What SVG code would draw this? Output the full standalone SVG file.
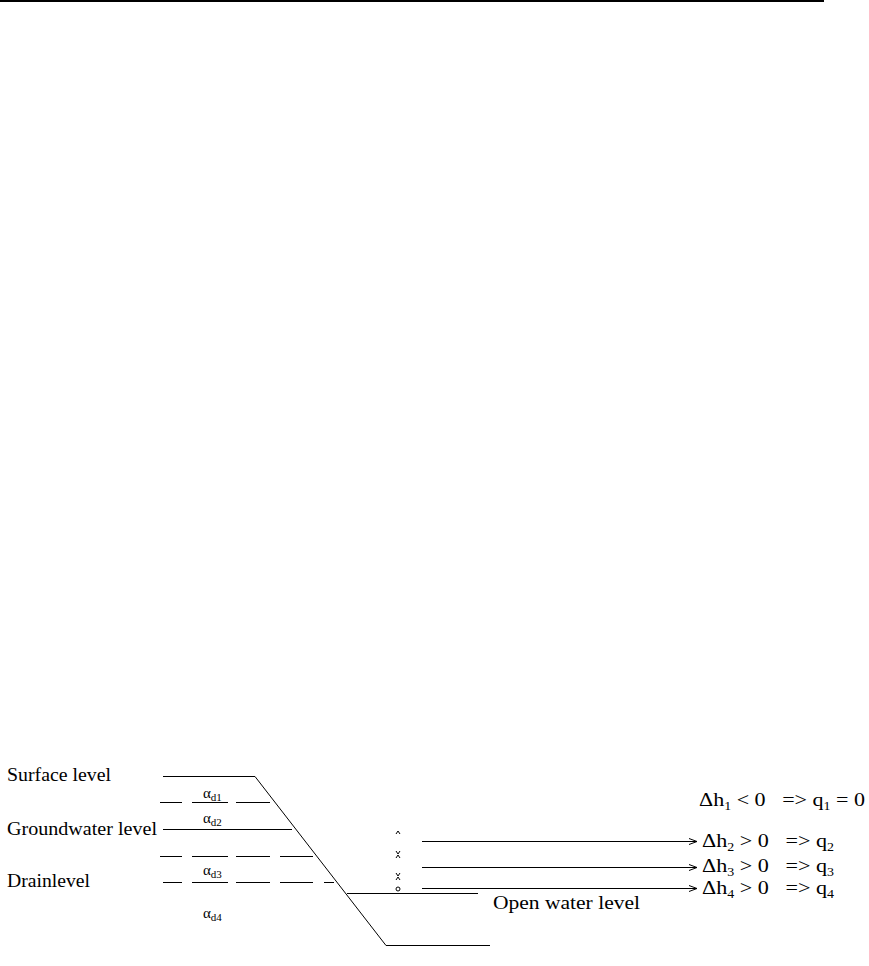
<svg xmlns="http://www.w3.org/2000/svg" width="869" height="966" viewBox="0 0 869 966">
<style>
.t{font-family:"Liberation Serif","Times New Roman",serif;font-size:19px;fill:#000}
.r{white-space:pre}
.a{font-family:"Liberation Serif","Times New Roman",serif;font-size:15px;fill:#000}
.s{font-size:11px}
.ln{stroke:#000;stroke-width:1;fill:none}
.dash{stroke:#000;stroke-width:1;fill:none}
</style>
<defs>
<marker id="arr" markerWidth="10" markerHeight="8" refX="9" refY="4" orient="auto" markerUnits="userSpaceOnUse">
<path d="M1,1 L9,4 L1,7" fill="none" stroke="#000" stroke-width="1"/>
</marker>
</defs>
<rect width="869" height="966" fill="#fff"/>
<line x1="0" y1="1" x2="824" y2="1" stroke="#000" stroke-width="2"/>

<g id="surface">
<text class="t" x="7" y="781" textLength="104" lengthAdjust="spacingAndGlyphs">Surface level</text>
<line class="ln" x1="163" y1="776.5" x2="255" y2="776.5"/>
</g>
<g id="groundwater">
<text class="t" x="7" y="835" textLength="150" lengthAdjust="spacingAndGlyphs">Groundwater level</text>
<line class="ln" x1="163" y1="829.5" x2="292" y2="829.5"/>
</g>
<g id="drain">
<text class="t" x="7" y="887" textLength="83" lengthAdjust="spacingAndGlyphs">Drainlevel</text>
</g>
<g id="dashes">
<path class="dash" d="M160,802.5H182M192,802.5H228M236,802.5H270"/>
<path class="dash" d="M160,856.5H182M192,856.5H228M236,856.5H270M280,856.5H313"/>
<path class="dash" d="M163,882.5H182M192,882.5H228M236,882.5H270M280,882.5H313M324,882.5H334"/>
</g>
<g id="slope">
<polyline class="ln" points="255,776.5 386,945.5 490,945.5"/>
</g>
<g id="openwater">
<line class="ln" x1="347" y1="893.5" x2="478" y2="893.5"/>
<text class="t" x="493" y="909" textLength="147" lengthAdjust="spacingAndGlyphs">Open water level</text>
</g>
<g id="alphas">
<text class="a" x="203" y="798">α<tspan class="s" dy="3">d1</tspan></text>
<text class="a" x="203" y="823">α<tspan class="s" dy="3">d2</tspan></text>
<text class="a" x="203" y="875">α<tspan class="s" dy="3">d3</tspan></text>
<text class="a" x="203" y="918">α<tspan class="s" dy="3">d4</tspan></text>
</g>
<g id="ticks">
<path class="ln" d="M396,834 L398,831 L400,834"/>
<path class="ln" d="M396,851 L398,854 L400,851 M396,858 L398,855 L400,858"/>
<path class="ln" d="M396,873 L398,876 L400,873 M396,880 L398,877 L400,880"/>
<circle class="ln" cx="398" cy="889" r="2"/>
</g>
<g id="connectors">
<line class="ln" x1="422" y1="841.5" x2="697" y2="841.5" marker-end="url(#arr)"/>
<line class="ln" x1="422" y1="867.5" x2="697" y2="867.5" marker-end="url(#arr)"/>
<line class="ln" x1="422" y1="888.5" x2="697" y2="888.5" marker-end="url(#arr)"/>
</g>
<g id="results">
<text class="t r" x="699" y="806" textLength="166" lengthAdjust="spacingAndGlyphs">Δh<tspan font-size="12" dy="4">1</tspan><tspan dy="-4"> &lt; 0   =&gt; q</tspan><tspan font-size="12" dy="4">1</tspan><tspan dy="-4"> = 0</tspan></text>
<text class="t r" x="702" y="847" textLength="132" lengthAdjust="spacingAndGlyphs">Δh<tspan font-size="12" dy="4">2</tspan><tspan dy="-4"> &gt; 0   =&gt; q</tspan><tspan font-size="12" dy="4">2</tspan></text>
<text class="t r" x="702" y="872" textLength="132" lengthAdjust="spacingAndGlyphs">Δh<tspan font-size="12" dy="4">3</tspan><tspan dy="-4"> &gt; 0   =&gt; q</tspan><tspan font-size="12" dy="4">3</tspan></text>
<text class="t r" x="702" y="894" textLength="132" lengthAdjust="spacingAndGlyphs">Δh<tspan font-size="12" dy="4">4</tspan><tspan dy="-4"> &gt; 0   =&gt; q</tspan><tspan font-size="12" dy="4">4</tspan></text>
</g>
</svg>
